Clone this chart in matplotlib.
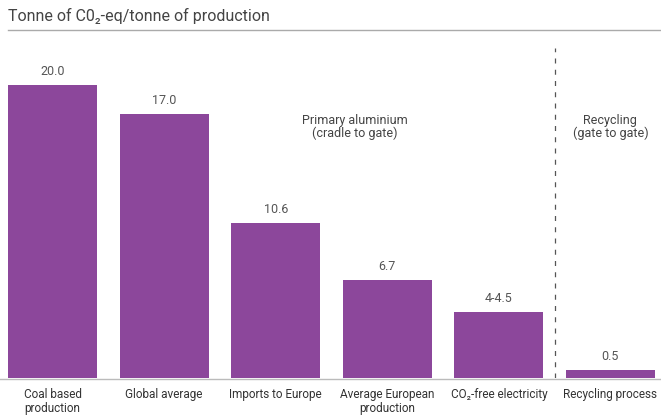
import matplotlib
matplotlib.use("Agg")
import matplotlib.pyplot as plt
from matplotlib.lines import Line2D

plt.rcParams['font.family'] = ['Roboto', 'DejaVu Sans']

categories = ["Coal based\nproduction", "Global average", "Imports to Europe",
              "Average European\nproduction", "CO₂-free electricity", "Recycling process"]
values = [20.0, 18.0, 10.6, 6.7, 4.5, 0.55]
value_labels = ["20.0", "17.0", "10.6", "6.7", "4-4.5", "0.5"]
title = "Tonne of C0₂-eq/tonne of production"
group_labels = ["Primary aluminium\n(cradle to gate)", "Recycling\n(gate to gate)"]

W, H = 661, 416
fig = plt.figure(figsize=(W / 100, H / 100), dpi=100)
bar_color = "#8C479B"

ax_left, ax_right = 8, 655
ax_bottom, ax_top = 378, 45
px_per_unit = 14.65
ymax = (ax_bottom - ax_top) / px_per_unit
ax = fig.add_axes([ax_left / W, (H - ax_bottom) / H, (ax_right - ax_left) / W, (ax_bottom - ax_top) / H])
x = list(range(len(categories)))
ax.bar(x, values, width=0.8, color=bar_color)
ax.set_xlim(-0.4, len(categories) - 0.6)
ax.set_ylim(0, ymax)
for s in ax.spines.values():
    s.set_visible(False)
ax.set_xticks([])
ax.set_yticks([])

for xi, v, lab in zip(x, values, value_labels):
    ax.annotate(lab, (xi, v), xytext=(0, 5), textcoords="offset points",
                ha="center", va="bottom", fontsize=9, color="#555555")

for xi, c in zip(x, categories):
    ax.annotate(c, (xi, 0), xytext=(0, -7), textcoords="offset points",
                ha="center", va="top", fontsize=8.5, color="#333333", linespacing=1.1)

# separator between primary and recycling
ax.axvline(4.5, ymin=0, ymax=(ax_bottom - 48) / (ax_bottom - ax_top), color="#555555",
           linestyle=(0, (4, 5)), linewidth=0.9)

ax.text(2.71, (ax_bottom - 127) / px_per_unit, group_labels[0], ha="center", va="center",
        fontsize=9, color="#444444", linespacing=1.0)
ax.text(5.0, (ax_bottom - 127) / px_per_unit, group_labels[1], ha="center", va="center",
        fontsize=9, color="#444444", linespacing=1.0)

# title & rules
fig.text(8 / W, 1 - 16 / H, title, ha="left", va="center", fontsize=11.5, color="#444444")
fig.add_artist(Line2D([8 / W, 1], [1 - 30 / H, 1 - 30 / H], color="#aaaaaa", linewidth=1.0,
                      transform=fig.transFigure))
fig.add_artist(Line2D([0, 1], [1 - 378.5 / H, 1 - 378.5 / H], color="#bbbbbb", linewidth=1.0,
                      transform=fig.transFigure))

fig.savefig("out.png", dpi=100)
